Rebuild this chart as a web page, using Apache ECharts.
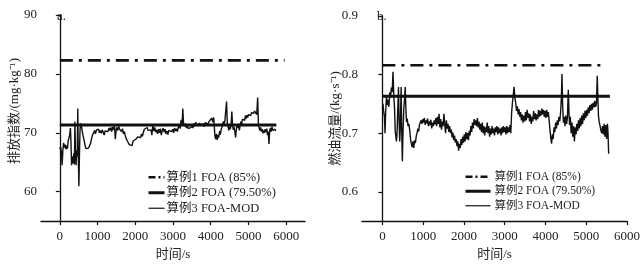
<!DOCTYPE html>
<html><head><meta charset="utf-8">
<script src="https://cdn.jsdelivr.net/npm/echarts@6/dist/echarts.min.js"></script>
<style>html,body{margin:0;padding:0;background:#fff}#c{width:644px;height:266px}</style>
</head><body><div id="c"></div>
<script>
// ---------- data ----------
const seriesNames = ['算例1 FOA (85%)', '算例2 FOA (79.50%)', '算例3 FOA-MOD'];
const xTicks = [0, 1000, 2000, 3000, 4000, 5000, 6000];
const yTicksA = [60, 70, 80, 90];
const yTicksB = [0.6, 0.7, 0.8, 0.9];

// panel a: emission index
const refA1 = [[0, 82.3], [5960, 82.3]];
const refA2 = [[0, 71.3], [5740, 71.3]];
const emission = [
[0,67.2],[20,67.6],[40,66.8],[60,64.5],[80,67.0],[100,68.3],[120,67.5],[140,68.0],[160,67.2],[180,67.8],[200,67.3],[220,68.6],[240,68.9],[260,69.6],[280,70.8],[295,68.5],[310,64.5],[330,66.0],[350,64.8],[370,66.5],[385,64.6],[400,71.9],[415,66.0],[430,64.5],[445,67.0],[460,66.0],[475,74.1],[490,65.5],[505,60.9],[520,66.5],[535,70.5],[550,71.6],[570,71.2],[590,70.4],[615,69.5],[640,68.8],[665,68.0],[690,67.3],[710,67.5],[735,67.0],[760,67.4],[790,67.5],[815,68.2],[840,69.0],[865,69.6],[895,70.0],[920,70.4],[945,69.8],[970,70.5],[1000,70.3],[1025,70.6],[1050,70.0],[1075,70.4],[1100,69.9],[1125,70.5],[1150,70.1],[1175,69.6],[1200,70.3],[1225,70.0],[1250,70.6],[1275,70.2],[1300,70.8],[1325,70.4],[1350,70.9],[1375,70.2],[1400,71.0],[1425,70.5],[1450,71.2],[1470,68.9],[1490,70.3],[1510,70.9],[1535,70.4],[1560,71.1],[1585,70.6],[1610,70.9],[1635,70.2],[1660,70.7],[1685,69.8],[1710,70.2],[1735,69.5],[1760,69.0],[1790,68.6],[1815,68.4],[1840,68.0],[1865,67.7],[1890,68.1],[1915,67.8],[1940,68.6],[1965,68.3],[1990,68.7],[2015,68.9],[2040,68.6],[2065,69.3],[2090,69.0],[2115,69.5],[2140,69.2],[2165,69.8],[2190,69.4],[2215,70.1],[2240,70.6],[2265,70.8],[2290,70.3],[2315,70.9],[2340,70.4],[2365,70.6],[2390,70.2],[2415,70.5],[2440,69.6],[2465,71.4],[2490,70.3],[2515,70.9],[2540,70.1],[2565,70.5],[2590,69.8],[2615,70.6],[2640,70.0],[2665,70.7],[2690,69.6],[2715,70.4],[2740,70.8],[2765,70.1],[2790,70.6],[2815,69.8],[2840,70.3],[2865,69.7],[2890,70.4],[2915,70.1],[2940,70.7],[2965,70.2],[2990,70.6],[3015,70.0],[3040,70.8],[3065,70.3],[3090,70.7],[3115,70.2],[3140,70.9],[3165,71.3],[3190,70.7],[3215,72.2],[3240,71.2],[3260,74.1],[3280,71.5],[3305,71.1],[3330,71.6],[3355,70.8],[3380,71.3],[3405,70.7],[3430,71.0],[3455,70.5],[3480,70.9],[3505,71.4],[3530,70.8],[3555,71.6],[3580,71.1],[3605,71.8],[3630,71.2],[3655,71.5],[3680,70.9],[3705,71.6],[3730,71.3],[3755,71.9],[3780,71.2],[3805,71.6],[3830,71.0],[3855,71.7],[3880,71.4],[3905,72.0],[3930,71.5],[3955,71.9],[3980,71.6],[4005,72.2],[4030,72.5],[4055,71.8],[4080,72.6],[4100,70.5],[4115,69.3],[4135,68.9],[4155,69.8],[4175,68.8],[4195,69.6],[4215,69.2],[4235,70.3],[4255,69.7],[4275,70.5],[4295,70.9],[4315,71.4],[4335,71.9],[4355,71.5],[4375,72.0],[4395,71.7],[4420,75.3],[4440,71.6],[4460,71.0],[4480,70.4],[4500,71.1],[4520,70.6],[4540,71.3],[4560,73.6],[4580,71.2],[4600,70.5],[4620,71.0],[4640,70.2],[4660,69.2],[4680,70.6],[4700,71.4],[4720,70.8],[4740,71.5],[4760,70.4],[4780,71.2],[4800,71.9],[4820,71.4],[4840,72.3],[4860,72.0],[4880,72.6],[4900,72.1],[4920,72.9],[4940,72.4],[4960,73.0],[4980,72.6],[5000,73.1],[5020,72.8],[5040,73.2],[5060,72.9],[5080,73.4],[5100,73.1],[5120,73.5],[5140,73.3],[5160,73.7],[5180,73.4],[5200,73.6],[5220,73.1],[5245,76.0],[5265,71.5],[5285,70.8],[5305,70.4],[5325,70.9],[5345,70.2],[5365,70.6],[5385,69.9],[5405,70.4],[5425,70.0],[5445,70.6],[5465,70.1],[5485,70.7],[5505,69.6],[5525,70.2],[5545,68.1],[5565,70.4],[5585,70.8],[5605,70.2],[5625,71.0],[5645,70.4],[5665,70.7],[5685,70.1],[5705,70.6],[5725,70.3],[5745,70.7]
];

// panel b: fuel flow
const refB1 = [[0, 0.816], [5450, 0.816]];
const refB2 = [[0, 0.763], [5580, 0.763]];
const fuelFlow = [
[0,0.742],[15,0.750],[30,0.738],[50,0.728],[65,0.700],[80,0.735],[100,0.763],[120,0.748],[140,0.757],[160,0.745],[180,0.770],[200,0.760],[220,0.778],[240,0.770],[260,0.805],[280,0.765],[300,0.740],[315,0.703],[330,0.695],[345,0.686],[360,0.700],[375,0.735],[395,0.779],[410,0.720],[425,0.686],[440,0.710],[460,0.779],[475,0.700],[490,0.652],[505,0.700],[525,0.741],[545,0.760],[560,0.779],[575,0.745],[590,0.719],[610,0.725],[630,0.712],[650,0.716],[670,0.705],[690,0.690],[710,0.682],[730,0.676],[750,0.686],[770,0.675],[790,0.688],[810,0.683],[830,0.695],[850,0.700],[870,0.708],[890,0.703],[910,0.715],[930,0.712],[950,0.722],[970,0.716],[990,0.724],[1010,0.718],[1030,0.726],[1050,0.714],[1070,0.722],[1090,0.717],[1110,0.725],[1130,0.712],[1150,0.720],[1170,0.714],[1190,0.723],[1210,0.708],[1230,0.718],[1250,0.712],[1270,0.722],[1290,0.715],[1310,0.726],[1330,0.712],[1350,0.728],[1370,0.716],[1390,0.733],[1410,0.710],[1430,0.724],[1450,0.706],[1470,0.720],[1490,0.712],[1510,0.733],[1530,0.715],[1550,0.700],[1570,0.722],[1590,0.708],[1610,0.716],[1630,0.702],[1650,0.712],[1670,0.700],[1690,0.706],[1710,0.693],[1730,0.701],[1750,0.688],[1770,0.696],[1790,0.684],[1810,0.690],[1830,0.678],[1850,0.686],[1870,0.670],[1890,0.682],[1910,0.675],[1930,0.690],[1950,0.680],[1970,0.694],[1990,0.684],[2010,0.698],[2030,0.686],[2050,0.702],[2070,0.690],[2090,0.700],[2110,0.688],[2130,0.704],[2150,0.696],[2170,0.712],[2190,0.702],[2210,0.718],[2230,0.708],[2250,0.724],[2270,0.714],[2290,0.722],[2310,0.712],[2330,0.726],[2350,0.710],[2370,0.720],[2390,0.706],[2410,0.716],[2430,0.702],[2450,0.718],[2470,0.700],[2490,0.712],[2510,0.696],[2530,0.710],[2550,0.702],[2570,0.718],[2590,0.700],[2610,0.712],[2630,0.694],[2650,0.708],[2670,0.698],[2690,0.712],[2710,0.700],[2730,0.708],[2750,0.696],[2770,0.710],[2790,0.702],[2810,0.712],[2830,0.698],[2850,0.710],[2870,0.700],[2890,0.708],[2910,0.696],[2930,0.710],[2950,0.700],[2970,0.712],[2990,0.702],[3010,0.710],[3030,0.698],[3050,0.712],[3070,0.700],[3090,0.710],[3110,0.702],[3130,0.714],[3150,0.700],[3170,0.735],[3190,0.752],[3210,0.765],[3230,0.779],[3250,0.760],[3270,0.752],[3290,0.738],[3310,0.746],[3330,0.732],[3350,0.741],[3370,0.728],[3390,0.736],[3410,0.722],[3430,0.732],[3450,0.718],[3470,0.730],[3490,0.720],[3510,0.736],[3530,0.722],[3550,0.740],[3570,0.726],[3590,0.734],[3610,0.720],[3630,0.732],[3650,0.716],[3670,0.728],[3690,0.720],[3710,0.738],[3730,0.724],[3750,0.734],[3770,0.722],[3790,0.732],[3810,0.724],[3830,0.740],[3850,0.728],[3870,0.738],[3890,0.730],[3910,0.742],[3930,0.732],[3950,0.740],[3970,0.728],[3990,0.738],[4010,0.726],[4030,0.740],[4050,0.728],[4070,0.736],[4090,0.722],[4110,0.706],[4130,0.692],[4150,0.682],[4170,0.698],[4190,0.690],[4210,0.710],[4230,0.702],[4250,0.718],[4270,0.708],[4290,0.722],[4310,0.714],[4330,0.728],[4350,0.720],[4370,0.734],[4390,0.760],[4405,0.801],[4420,0.750],[4440,0.718],[4460,0.728],[4480,0.712],[4500,0.730],[4520,0.716],[4540,0.728],[4560,0.774],[4575,0.740],[4590,0.714],[4610,0.728],[4630,0.700],[4650,0.718],[4670,0.694],[4690,0.712],[4710,0.686],[4730,0.710],[4750,0.698],[4770,0.716],[4790,0.704],[4810,0.722],[4830,0.708],[4850,0.726],[4870,0.712],[4890,0.730],[4910,0.716],[4930,0.734],[4950,0.722],[4970,0.738],[4990,0.726],[5010,0.740],[5030,0.730],[5050,0.744],[5070,0.734],[5090,0.748],[5110,0.738],[5130,0.750],[5150,0.740],[5170,0.752],[5190,0.744],[5210,0.755],[5230,0.745],[5250,0.750],[5270,0.798],[5285,0.760],[5300,0.730],[5320,0.718],[5340,0.712],[5360,0.705],[5380,0.700],[5400,0.712],[5420,0.698],[5440,0.716],[5460,0.694],[5480,0.714],[5500,0.690],[5520,0.716],[5535,0.700],[5550,0.665]
];

// ---------- chart ----------
const FONT = "'Liberation Serif', 'Noto Sans CJK SC', serif";
const TXT = '#222';
const DASHDOT = [13, 6, 3, 6];
const chart = echarts.init(document.getElementById('c'), null, {renderer: 'canvas'});

function xAxis(gi, max) {
  return {
    type: 'value', gridIndex: gi, min: -500, max: max,
    name: '时间/s', nameLocation: 'middle', nameGap: 23,
    nameTextStyle: {fontFamily: FONT, fontSize: 13, color: TXT},
    axisLine: {show: true, lineStyle: {color: '#111', width: 1.3}},
    axisTick: {show: true, inside: false, length: 4, customValues: xTicks, lineStyle: {color: '#111', width: 1.2}},
    axisLabel: {customValues: xTicks, margin: 9, fontFamily: FONT, fontSize: 13, color: TXT, formatter: v => String(v)},
    splitLine: {show: false}
  };
}
function yAxis(gi, min, max, ticks, name, gap, fmt, pad) {
  return {
    type: 'value', gridIndex: gi, min: min, max: max,
    name: name, nameLocation: 'middle', nameGap: gap, nameRotate: 90, nameMoveOverlap: false,
    nameTextStyle: {fontFamily: FONT, fontSize: 13, color: TXT, padding: pad},
    axisLine: {show: true, lineStyle: {color: '#111', width: 1.3}},
    axisTick: {show: true, inside: false, length: 4, customValues: ticks, lineStyle: {color: '#111', width: 1.2}},
    axisLabel: {customValues: ticks, margin: 4, fontFamily: FONT, fontSize: 13, color: TXT, formatter: fmt},
    splitLine: {show: false}
  };
}
function mkSeries(gi, r1, r2, d) {
  return [
    {name: seriesNames[2], type: 'line', xAxisIndex: gi, yAxisIndex: gi, data: d, symbol: 'none', color: '#111',
     lineStyle: {color: '#111', width: 1.4}, silent: true, animation: false},
    {name: seriesNames[0], type: 'line', xAxisIndex: gi, yAxisIndex: gi, data: r1, symbol: 'none', color: '#111',
     lineStyle: {color: '#111', width: 2.6, type: DASHDOT}, silent: true, animation: false},
    {name: seriesNames[1], type: 'line', xAxisIndex: gi, yAxisIndex: gi, data: r2, symbol: 'none', color: '#111',
     lineStyle: {color: '#111', width: 3}, silent: true, animation: false}
  ];
}
function legend(left, w, fs, padL) {
  return {
    data: [
      {name: seriesNames[0], lineStyle: {color: '#111', width: 2.6, type: [7, 3, 2, 3]}},
      {name: seriesNames[1], lineStyle: {color: '#111', width: 3, type: 'solid'}},
      {name: seriesNames[2], lineStyle: {color: '#111', width: 1.2, type: 'solid'}}
    ],
    orient: 'vertical', left: left, top: 166,
    itemWidth: w, itemHeight: 12, itemGap: 3, selectedMode: false,
    itemStyle: {opacity: 0},
    textStyle: {fontFamily: FONT, fontSize: fs, color: TXT, padding: [0, 0, 0, padL]}
  };
}

chart.setOption({
  animation: false,
  grid: [
    {left: 41, top: 15, width: 264, height: 213},
    {left: 362, top: 16, width: 265, height: 213}
  ],
  xAxis: [xAxis(0, 6500), xAxis(1, 6000)],
  yAxis: [
    yAxis(0, 55, 90, yTicksA, '排放指数/(mg·kg⁻¹)', 20, v => String(v), [0, 0, 0, 14]),
    yAxis(1, 0.55, 0.9, yTicksB, '燃油流量/(kg·s⁻¹)', 20, v => v.toFixed(1), [0, 0, 0, 0])
  ],
  legend: [legend(142, 16, 12.5, -3), legend(459, 25, 11.5, -1)],
  graphic: [
    {type: 'text', left: 57, top: 10, style: {text: 'a.', font: "13px " + FONT, fill: TXT}},
    {type: 'text', left: 377, top: 10, style: {text: 'b.', font: "13px " + FONT, fill: TXT}}
  ],
  series: [].concat(mkSeries(0, refA1, refA2, emission), mkSeries(1, refB1, refB2, fuelFlow))
});
</script></body></html>
